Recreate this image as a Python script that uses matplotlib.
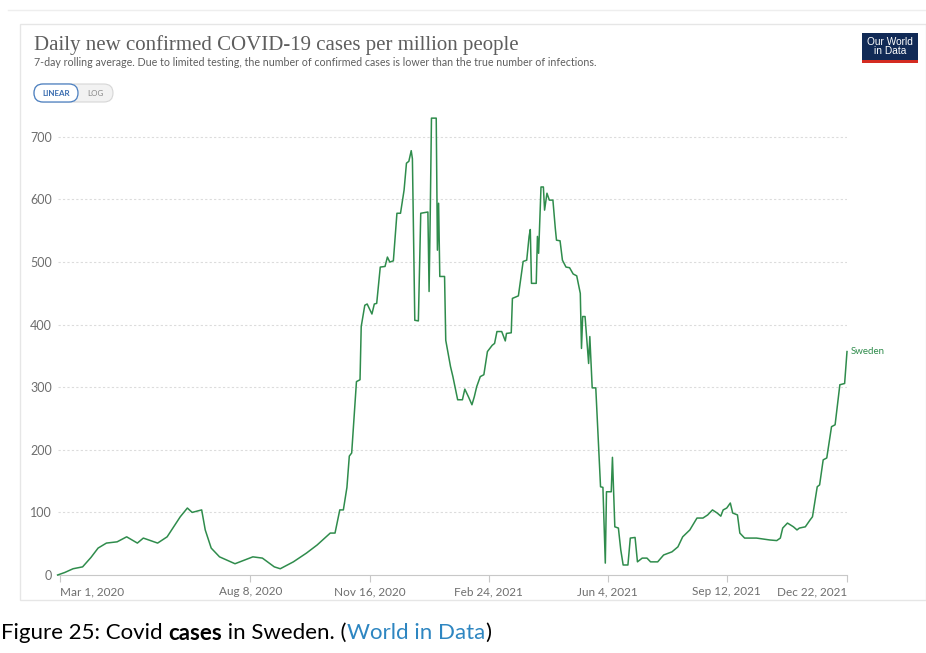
import matplotlib.pyplot as plt
from matplotlib.patches import FancyBboxPatch, Rectangle
from matplotlib.lines import Line2D
import pandas as pd

# Sweden, daily new confirmed cases per million (7-day avg)
dates = [
    "2020-02-28", "2020-03-05", "2020-03-12", "2020-03-20", "2020-03-27", "2020-04-02",
    "2020-04-09", "2020-04-18", "2020-04-26", "2020-05-05", "2020-05-10", "2020-05-22",
    "2020-05-30", "2020-06-10", "2020-06-16", "2020-06-20", "2020-06-28", "2020-07-01",
    "2020-07-06", "2020-07-13", "2020-07-26", "2020-08-10", "2020-08-18", "2020-08-28",
    "2020-09-02", "2020-09-13", "2020-09-24", "2020-10-03", "2020-10-14", "2020-10-18",
    "2020-10-22", "2020-10-25", "2020-10-28", "2020-10-30", "2020-11-01", "2020-11-05",
    "2020-11-08", "2020-11-09", "2020-11-12", "2020-11-14", "2020-11-18", "2020-11-20",
    "2020-11-22", "2020-11-25", "2020-11-29", "2020-12-01", "2020-12-03", "2020-12-06",
    "2020-12-09", "2020-12-12", "2020-12-15", "2020-12-17", "2020-12-19", "2020-12-21",
    "2020-12-22", "2020-12-24", "2020-12-27", "2020-12-29", "2021-01-04", "2021-01-05",
    "2021-01-06", "2021-01-07", "2021-01-11", "2021-01-12", "2021-01-13", "2021-01-14",
    "2021-01-18", "2021-01-19", "2021-01-23", "2021-01-25", "2021-01-29", "2021-02-02",
    "2021-02-04", "2021-02-07", "2021-02-10", "2021-02-12", "2021-02-14", "2021-02-17",
    "2021-02-20", "2021-02-23", "2021-02-27", "2021-03-01", "2021-03-03", "2021-03-07",
    "2021-03-10", "2021-03-11", "2021-03-15", "2021-03-16", "2021-03-21", "2021-03-25",
    "2021-03-28", "2021-03-30", "2021-03-31", "2021-04-01", "2021-04-05", "2021-04-06",
    "2021-04-07", "2021-04-09", "2021-04-11", "2021-04-12", "2021-04-14", "2021-04-16",
    "2021-04-19", "2021-04-21", "2021-04-22", "2021-04-25", "2021-04-27", "2021-04-30",
    "2021-05-03", "2021-05-06", "2021-05-09", "2021-05-12", "2021-05-13", "2021-05-14",
    "2021-05-16", "2021-05-19", "2021-05-20", "2021-05-22", "2021-05-25", "2021-05-29",
    "2021-05-31", "2021-06-02", "2021-06-03", "2021-06-07", "2021-06-08", "2021-06-10",
    "2021-06-13", "2021-06-15", "2021-06-17", "2021-06-21", "2021-06-23", "2021-06-27",
    "2021-06-29", "2021-07-03", "2021-07-07", "2021-07-10", "2021-07-16", "2021-07-21",
    "2021-07-28", "2021-08-02", "2021-08-06", "2021-08-12", "2021-08-18", "2021-08-23",
    "2021-08-27", "2021-08-31", "2021-09-04", "2021-09-07", "2021-09-09", "2021-09-12",
    "2021-09-15", "2021-09-17", "2021-09-21", "2021-09-23", "2021-09-27", "2021-10-07",
    "2021-10-18", "2021-10-24", "2021-10-27", "2021-10-29", "2021-11-02", "2021-11-07",
    "2021-11-10", "2021-11-12", "2021-11-17", "2021-11-21", "2021-11-23", "2021-11-27",
    "2021-11-29", "2021-12-02", "2021-12-05", "2021-12-09", "2021-12-12", "2021-12-16",
    "2021-12-20", "2021-12-22",
]
cases = [
    0, 4, 10, 13, 28, 43,
    51, 53, 61, 51, 59, 51,
    61, 93, 107, 100, 104, 72,
    43, 29, 18, 29, 27, 13,
    10, 21, 35, 48, 67, 67,
    104, 104, 140, 190, 195, 309,
    312, 397, 431, 433, 417, 433,
    434, 492, 493, 508, 500, 502,
    578, 578, 615, 658, 661, 678,
    665, 407, 406, 578, 580, 453,
    580, 730, 730, 519, 594, 477,
    477, 375, 333, 317, 280, 280,
    297, 285, 272, 285, 301, 317,
    320, 357, 367, 370, 389, 389,
    374, 386, 387, 442, 446, 501,
    503, 541, 552, 466, 466, 541,
    514, 620, 620, 583, 610, 599,
    599, 554, 535, 534, 503, 492,
    491, 481, 478, 450, 362, 413,
    413, 338, 381, 299, 299, 141,
    140, 19, 133, 133, 188, 77,
    75, 40, 16, 16, 59, 60,
    21, 27, 27, 21, 21, 32,
    37, 45, 61, 72, 91, 91,
    96, 104, 99, 94, 104, 107,
    115, 99, 96, 67, 59, 59,
    56, 55, 59, 75, 83, 77,
    72, 75, 77, 88, 93, 141,
    144, 184, 187, 237, 240, 304,
    306, 357,
]
country = "Sweden"
tick_dates = ["2020-03-01", "2020-08-08", "2020-11-16", "2021-02-24",
              "2021-06-04", "2021-09-12", "2021-12-22"]
tick_labels = ["Mar 1, 2020", "Aug 8, 2020", "Nov 16, 2020", "Feb 24, 2021",
               "Jun 4, 2021", "Sep 12, 2021", "Dec 22, 2021"]
y_ticks = [0, 100, 200, 300, 400, 500, 600, 700]

title = "Daily new confirmed COVID-19 cases per million people"
subtitle = ("7-day rolling average. Due to limited testing, the number of confirmed "
            "cases is lower than the true number of infections.")

W, H = 926, 653
line_color = "#2f8c4c"
grey_txt = "#6e6e6e"

x = pd.to_datetime(dates)

fig = plt.figure(figsize=(W / 100, H / 100), dpi=100)
ax = fig.add_axes([57.6 / W, 1 - 575 / H, (847 - 57.6) / W, (575 - 115) / H])

ax.plot(x, cases, color=line_color, lw=1.1, clip_on=False, zorder=3)
ax.text(x[-1] + pd.Timedelta(days=3), cases[-1], country, color=line_color,
        fontsize=7, family="Lato", va="center", ha="left")

ax.set_xlim(pd.Timestamp("2020-02-28"), x[-1])
ax.set_ylim(0, 735)

ax.set_yticks(y_ticks)
ax.set_yticklabels([str(v) for v in y_ticks], family="Lato", fontsize=9, color=grey_txt)
ax.tick_params(axis="y", length=0, pad=4)
for v in y_ticks[1:]:
    ax.axhline(v, color="#dcdcdc", lw=0.8, ls=(0, (2, 2)), zorder=1)

ax.set_xticks(pd.to_datetime(tick_dates))
ax.set_xticklabels(tick_labels, family="Lato", fontsize=8.5, color=grey_txt)
labs = ax.get_xticklabels()
labs[0].set_ha("left")
labs[-1].set_ha("right")
ax.tick_params(axis="x", length=5, color="#c8c8c8", width=0.8, pad=3)

for s in ["top", "right", "left"]:
    ax.spines[s].set_visible(False)
ax.spines["bottom"].set_color("#c8c8c8")
ax.spines["bottom"].set_linewidth(0.8)

# card frame
fig.add_artist(Rectangle((20 / W, 1 - 600 / H), (W - 20) / W, (600 - 24) / H,
                         transform=fig.transFigure, fill=False, edgecolor="#e6e6e6", lw=1))
fig.add_artist(Line2D([8 / W, 1], [1 - 10 / H, 1 - 10 / H], transform=fig.transFigure,
                      color="#eeeeee", lw=1))

# title + subtitle
fig.text(34 / W, 1 - 45 / H, title, family="Liberation Serif", fontsize=15,
         color="#5e5e5e", va="center", ha="left")
fig.text(34 / W, 1 - 63 / H, subtitle, family="Lato", fontsize=7.7,
         color="#5e5e5e", va="center", ha="left")

# LINEAR / LOG toggle
inch = fig.dpi_scale_trans
fig.add_artist(FancyBboxPatch((34 / 100, (H - 102) / 100), 79 / 100, 18 / 100,
                              boxstyle="round,pad=0,rounding_size=0.09", transform=inch,
                              facecolor="#f2f2f2", edgecolor="#d6d6d6", lw=0.8))
fig.add_artist(FancyBboxPatch((34 / 100, (H - 102) / 100), 44 / 100, 18 / 100,
                              boxstyle="round,pad=0,rounding_size=0.09", transform=inch,
                              facecolor="white", edgecolor="#4a7fc1", lw=0.9))
fig.text(56 / W, 1 - 93 / H, "LINEAR", family="Lato", fontsize=5.8, color="#3a6db0",
         ha="center", va="center", weight="bold")
fig.text(95 / W, 1 - 93 / H, "LOG", family="Lato", fontsize=5.8, color="#888888",
         ha="center", va="center")

# OWID logo
fig.add_artist(Rectangle((862 / W, 1 - 63 / H), 56 / W, 30 / H, transform=fig.transFigure,
                         facecolor="#112a56", edgecolor="none"))
fig.add_artist(Rectangle((862 / W, 1 - 63 / H), 56 / W, 3 / H, transform=fig.transFigure,
                         facecolor="#d42b21", edgecolor="none"))
fig.text(890 / W, 1 - 46.5 / H, "Our World\nin Data", family="Liberation Sans", fontsize=7.3,
         color="white", ha="center", va="center", linespacing=0.85)

# caption below the card, pieced together for mixed styles
fig.canvas.draw()
r = fig.canvas.get_renderer()
pieces = [("Figure 25: Covid ", dict(color="black")),
          ("cases", dict(color="black", weight="bold")),
          (" in Sweden. (", dict(color="black")),
          ("World in Data", dict(color="#2e86c1")),
          (")", dict(color="black"))]
px = 1
for s, kw in pieces:
    t = fig.text(px / W, 1 - 633 / H, s, family="Lato", fontsize=16,
                 va="center", ha="left", **kw)
    px = t.get_window_extent(r).x1

fig.savefig("out.png", dpi=100)
